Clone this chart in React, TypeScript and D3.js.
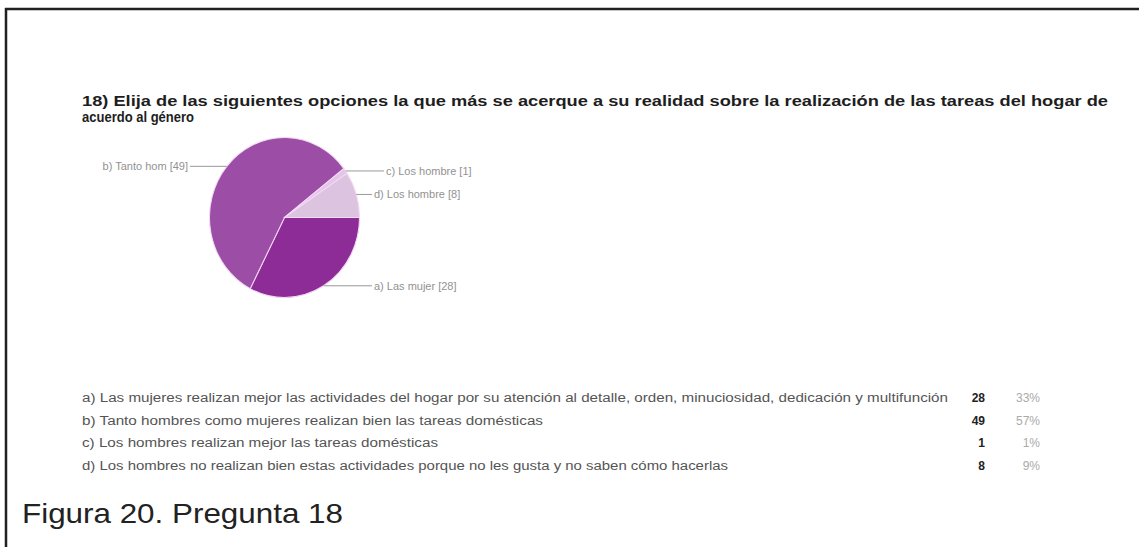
import React from "react";
import * as d3 from "d3";

const titleLines = [
  "18) Elija de las siguientes opciones la que más se acerque a su realidad sobre la realización de las tareas del hogar de",
  "acuerdo al género",
];
const categories = [
  "a) Las mujeres realizan mejor las actividades del hogar por su atención al detalle, orden, minuciosidad, dedicación y multifunción",
  "b) Tanto hombres como mujeres realizan bien las tareas domésticas",
  "c) Los hombres realizan mejor las tareas domésticas",
  "d) Los hombres no realizan bien estas actividades porque no les gusta y no saben cómo hacerlas",
];
const shortLabels = ["a) Las mujer", "b) Tanto hom", "c) Los hombre", "d) Los hombre"];
const counts = [28, 49, 1, 8];
const percents = ["33%", "57%", "1%", "9%"];
const colors = ["#8e2c97", "#9c4ea6", "#e3c6e6", "#dcc3e0"];
const caption = "Figura 20. Pregunta 18";

const W = 1139;
const H = 547;
const font = "'Liberation Sans', Arial, sans-serif";

export default function App() {
  const cx = 284.5;
  const cy = 217.5;
  const rx = 75;
  const ry = 80;
  const pie = d3
    .pie<number>()
    .sort(null)
    .startAngle(Math.PI / 2)
    .endAngle(Math.PI / 2 + 2 * Math.PI)(counts);
  const arc = d3.arc<d3.PieArcDatum<number>>().innerRadius(0).outerRadius(rx);

  const rowWidths = [866, 461, 356, 646];
  const rowY = d3.scaleBand<number>().domain(d3.range(categories.length)).range([387, 477]);

  return (
    <svg
      width={W}
      height={H}
      style={{ position: "absolute", left: 0, top: 0, background: "#fff" }}
      fontFamily={font}
    >
      <rect x={0} y={0} width={W} height={H} fill="#fff" />
      <line x1={5} x2={W} y1={9} y2={9} stroke="#231f20" strokeWidth={2.5} />
      <line x1={6} x2={6} y1={8} y2={H} stroke="#231f20" strokeWidth={2.5} />

      <text x={82} y={106} fontSize={14} fontWeight="bold" fill="#1e1e1e" textLength={1026} lengthAdjust="spacingAndGlyphs">
        {titleLines[0]}
      </text>
      <text x={82} y={122} fontSize={14} fontWeight="bold" fill="#1e1e1e" textLength={112} lengthAdjust="spacingAndGlyphs">
        {titleLines[1]}
      </text>

      <g transform={`translate(${cx},${cy}) scale(1,${ry / rx})`}>
        {pie.map((d, i) => (
          <path key={i} d={arc(d) || ""} fill={colors[i]} stroke="#f3d9f5" strokeWidth={1} />
        ))}
      </g>

      {pie.map((d, i) => {
        const mid = (d.startAngle + d.endAngle) / 2;
        const px = cx + Math.sin(mid) * rx;
        const py = cy - Math.cos(mid) * ry;
        const right = Math.sin(mid) > 0;
        const labelX = right ? (i === 2 ? 384 : 372) : 190;
        const label = `${shortLabels[i]} [${counts[i]}]`;
        return (
          <g key={i}>
            <line x1={px} x2={labelX} y1={py} y2={py} stroke="#999" strokeWidth={1} />
            <text
              x={right ? labelX + 2 : labelX - 2}
              y={py + 4}
              fontSize={11}
              fill="#929292"
              textAnchor={right ? "start" : "end"}
            >
              {label}
            </text>
          </g>
        );
      })}

      {categories.map((c, i) => {
        const y = (rowY(i) || 0) + rowY.bandwidth() / 2;
        return (
          <g key={i}>
            <text x={82} y={y + 4} fontSize={12} fill="#555" textLength={rowWidths[i]} lengthAdjust="spacingAndGlyphs">
              {c}
            </text>
            <text x={985} y={y + 4} fontSize={12} fontWeight="bold" fill="#222" textAnchor="end">
              {counts[i]}
            </text>
            <text x={1040} y={y + 4} fontSize={12} fill="#aaa" textAnchor="end">
              {percents[i]}
            </text>
          </g>
        );
      })}

      <text x={22} y={523} fontSize={28} fill="#222" textLength={321} lengthAdjust="spacingAndGlyphs">
        {caption}
      </text>
    </svg>
  );
}
